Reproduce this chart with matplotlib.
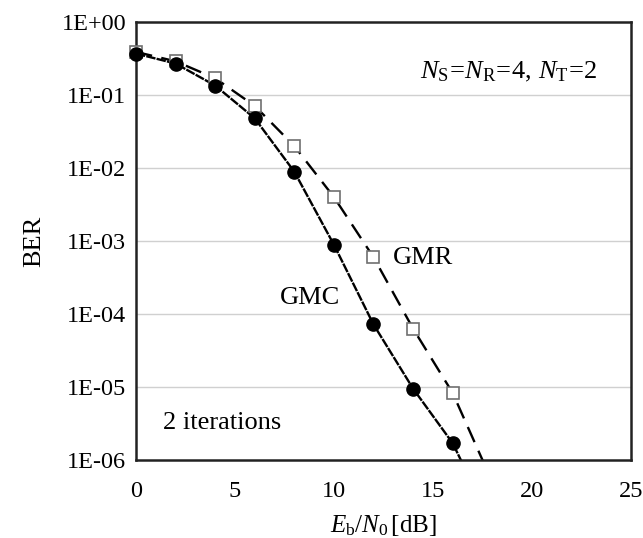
import matplotlib
matplotlib.use("Agg")
import matplotlib.pyplot as plt
import numpy as np
from matplotlib.ticker import FixedLocator, FixedFormatter, NullLocator

plt.rcParams['font.family'] = ['Liberation Serif', 'DejaVu Serif']
plt.rcParams['mathtext.fontset'] = 'custom'
plt.rcParams['mathtext.rm'] = 'Liberation Serif'
plt.rcParams['mathtext.it'] = 'Liberation Serif:italic'

ebn0 = [0, 2, 4, 6, 8, 10, 12, 14, 16]
ber_gmc = [0.37, 0.27, 0.135, 0.048, 0.0089, 0.00089, 7.2e-5, 9.5e-6, 1.7e-6]
ber_gmr = [0.39, 0.29, 0.17, 0.071, 0.020, 0.0040, 6.0e-4, 6.3e-5, 8.3e-6]
# line continuation past last marker (falls below the axis floor)
line_x_end = 18
gmc_line_end = 1.3e-7
gmr_line_end = 5e-7

yticks = [1e0, 1e-1, 1e-2, 1e-3, 1e-4, 1e-5, 1e-6]
ytick_labels = ['1E+00', '1E-01', '1E-02', '1E-03', '1E-04', '1E-05', '1E-06']
xticks = [0, 5, 10, 15, 20, 25]

fig = plt.figure(figsize=(6.43, 5.38), dpi=100)
ax = fig.add_axes([0.2115, 0.145, 0.7695, 0.814])
ax.set_yscale('log')
ax.set_xlim(0, 25)
ax.set_ylim(1e-6, 1)

for v in yticks[1:-1]:
    ax.axhline(v, color='#d0d0d0', lw=1.0, zorder=0)

ax.plot(ebn0 + [line_x_end], ber_gmr + [gmr_line_end], color='black', lw=1.7,
        dashes=(7, 4), zorder=2)
ax.plot(ebn0 + [line_x_end], ber_gmc + [gmc_line_end], color='black', lw=1.7,
        dashes=(4, 0.5), zorder=2)
ax.plot(ebn0, ber_gmr, ls='none', marker='s', ms=8.5, mfc='white', mec='#707070',
        mew=1.2, zorder=3, clip_on=False)
ax.plot(ebn0, ber_gmc, ls='none', marker='o', ms=9.5, mfc='black', mec='black',
        zorder=4, clip_on=False)

ax.yaxis.set_major_locator(FixedLocator(yticks))
ax.yaxis.set_major_formatter(FixedFormatter(ytick_labels))
ax.yaxis.set_minor_locator(NullLocator())
ax.set_xticks(xticks)
ax.set_xticklabels([str(t) for t in xticks])
ax.tick_params(axis='both', length=0, labelsize=17.5)
ax.tick_params(axis='x', pad=15)
ax.tick_params(axis='y', pad=7)

for s in ax.spines.values():
    s.set_linewidth(1.8)
    s.set_color('#222222')

ax.set_xlabel(r'$\mathit{E}_{\mathrm{b}}/\mathit{N}_{0}\,$[dB]', fontsize=18, labelpad=8)
ax.set_ylabel('BER', fontsize=19, labelpad=12)

ax.text(13.0, 5.9e-4, 'GMR', fontsize=19, va='center', ha='left')
ax.text(10.3, 1.66e-4, 'GMC', fontsize=19, va='center', ha='right')
ax.text(1.36, 3.2e-6, '2 iterations', fontsize=19, va='center', ha='left')
ax.text(23.3, 0.21,
        r'$\mathit{N}_{\mathrm{S}}\!=\!\mathit{N}_{\mathrm{R}}\!=\!4,\,\mathit{N}_{\mathrm{T}}\!=\!2$',
        fontsize=19, va='center', ha='right')

fig.savefig('out.png', dpi=100)
